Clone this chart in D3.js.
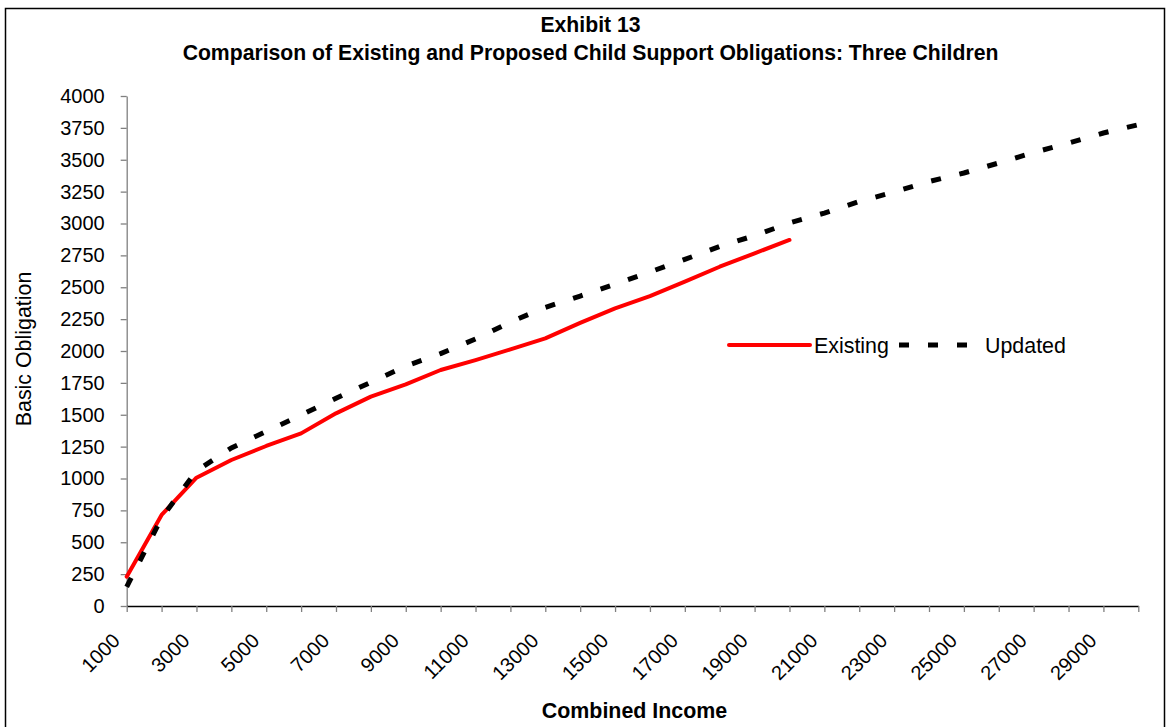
<!DOCTYPE html>
<html>
<head>
<meta charset="utf-8">
<script src="https://cdn.jsdelivr.net/npm/d3@7"></script>
<style>
  html, body { margin: 0; padding: 0; background: #fff; }
  svg { display: block; font-family: "Liberation Sans", Arial, sans-serif; }
</style>
</head>
<body>
<svg id="chart" width="1167" height="727"></svg>
<script>
// Combined monthly income (categories), one point every $1,000
const incomes = d3.range(1000, 30001, 1000);
// Labelled incomes on the category axis
const xTickLabels = [1000, 3000, 5000, 7000, 9000, 11000, 13000, 15000, 17000, 19000, 21000, 23000, 25000, 27000, 29000];
const yTickValues = [0, 250, 500, 750, 1000, 1250, 1500, 1750, 2000, 2250, 2500, 2750, 3000, 3250, 3500, 3750, 4000];

// Existing schedule: 1000 .. 20000
const existing = [230, 714, 1006, 1145, 1255, 1354, 1511, 1642, 1739, 1851,
                  1929, 2013, 2099, 2220, 2335, 2431, 2544, 2661, 2766, 2871];
// Updated schedule: 1000 .. 30000
const updated = [150, 690, 1060, 1240, 1369, 1498, 1629, 1755, 1882, 1980,
                 2094, 2227, 2342, 2431, 2525, 2620, 2718, 2820, 2905, 3004,
                 3082, 3173, 3247, 3329, 3396, 3475, 3557, 3631, 3710, 3775];

const titleLines = ["Exhibit 13", "Comparison of Existing and Proposed Child Support Obligations: Three Children"];
const xTitle = "Combined Income";
const yTitle = "Basic Obligation";
const seriesNames = ["Existing", "Updated"];

const svg = d3.select("#chart");

// outer frame
svg.append("rect")
  .attr("x", 5.5).attr("y", 8.5)
  .attr("width", 1159).attr("height", 730)
  .attr("fill", "none").attr("stroke", "#000").attr("stroke-width", 1.5);

const x = d3.scaleLinear().domain([1000, 30000]).range([126.7, 1138.3]);
const y = d3.scaleLinear().domain([0, 4000]).range([606, 96]);

// titles
svg.append("g").selectAll("text")
  .data(titleLines)
  .join("text")
  .attr("x", 590.5)
  .attr("y", (d, i) => 32 + i * 28)
  .attr("text-anchor", "middle")
  .attr("font-weight", "bold")
  .attr("font-size", 21.2)
  .text(d => d);

// y axis
const yAxis = svg.append("g")
  .attr("transform", `translate(${x(1000)},0)`)
  .call(d3.axisLeft(y).tickValues(yTickValues).tickFormat(d3.format("d"))
        .tickSize(6).tickPadding(16).tickSizeOuter(0));
yAxis.select(".domain").attr("stroke", "#808080").attr("stroke-width", 1.3);
yAxis.selectAll(".tick line").attr("stroke", "#808080").attr("stroke-width", 1.3);
yAxis.selectAll(".tick text")
  .attr("font-size", 20).attr("fill", "#000")
  .attr("font-family", "Liberation Sans, Arial, sans-serif");

// x axis
const xAxis = svg.append("g")
  .attr("transform", `translate(0,${y(0)})`)
  .call(d3.axisBottom(x).tickValues(incomes).tickSize(6).tickSizeOuter(0)
        .tickFormat(d => xTickLabels.includes(d) ? d : ""));
xAxis.select(".domain").attr("stroke", "#000").attr("stroke-width", 1.5);
xAxis.selectAll(".tick line").attr("stroke", "#808080").attr("stroke-width", 1.3);
xAxis.selectAll(".tick text")
  .attr("font-size", 20).attr("fill", "#000")
  .attr("font-family", "Liberation Sans, Arial, sans-serif")
  .attr("text-anchor", "end")
  .attr("dy", null)
  .attr("y", null)
  .attr("transform", "translate(-6,36) rotate(-45)");

// axis titles
svg.append("text")
  .attr("x", 634.5).attr("y", 718)
  .attr("text-anchor", "middle")
  .attr("font-weight", "bold").attr("font-size", 21.4)
  .text(xTitle);

svg.append("text")
  .attr("transform", "translate(31,349) rotate(-90)")
  .attr("text-anchor", "middle")
  .attr("font-size", 21.4)
  .text(yTitle);

// series lines
const line = d3.line()
  .x((d, i) => x(incomes[i]))
  .y(d => y(d));

svg.append("path")
  .datum(existing)
  .attr("fill", "none")
  .attr("stroke", "#ff0000")
  .attr("stroke-width", 4)
  .attr("stroke-linejoin", "round")
  .attr("stroke-linecap", "round")
  .attr("d", line);

svg.append("path")
  .datum(updated)
  .attr("fill", "none")
  .attr("stroke", "#000")
  .attr("stroke-width", 5)
  .attr("stroke-dasharray", "10,19")
  .attr("d", line);

// legend
const legend = svg.append("g");
legend.append("line")
  .attr("x1", 729).attr("x2", 810).attr("y1", 345).attr("y2", 345)
  .attr("stroke", "#ff0000").attr("stroke-width", 4).attr("stroke-linecap", "round");
legend.append("text")
  .attr("x", 814).attr("y", 352.5)
  .attr("font-size", 21.4)
  .text(seriesNames[0]);
legend.append("line")
  .attr("x1", 899).attr("x2", 975).attr("y1", 345).attr("y2", 345)
  .attr("stroke", "#000").attr("stroke-width", 5).attr("stroke-dasharray", "10,19");
legend.append("text")
  .attr("x", 985).attr("y", 352.5)
  .attr("font-size", 21.4)
  .text(seriesNames[1]);
</script>
</body>
</html>
